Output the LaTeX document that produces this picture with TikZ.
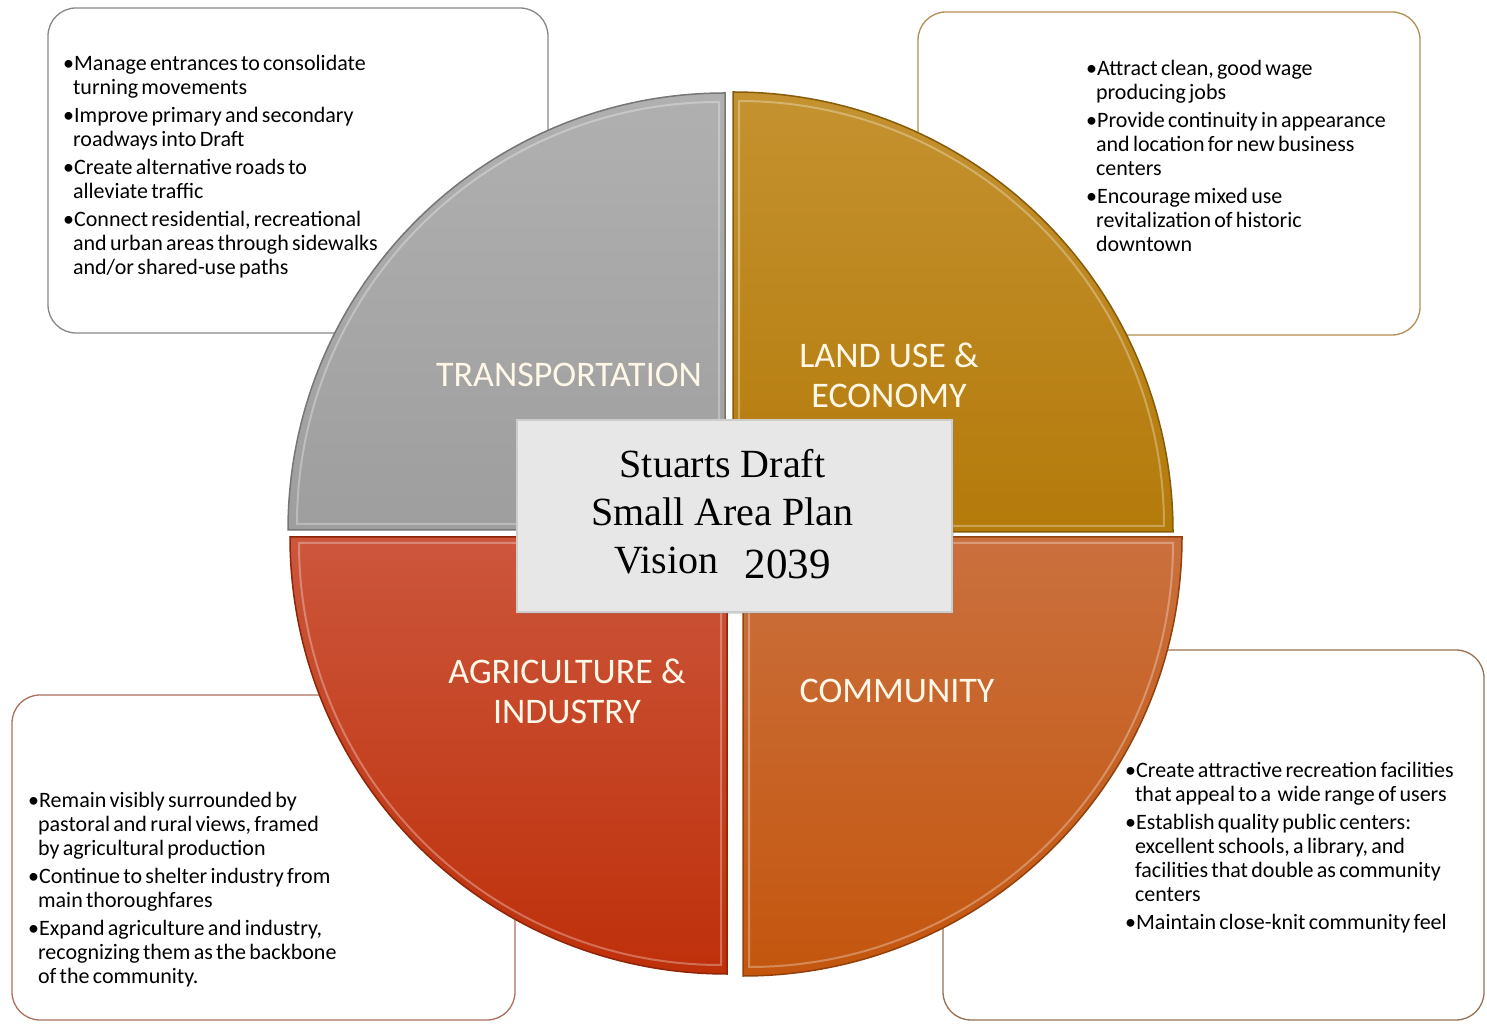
\documentclass[tikz,border=0pt]{standalone}
\usepackage{fontspec}
\setmainfont{Carlito}
\newfontfamily\titlefont{Liberation Serif}
\usetikzlibrary{calc,positioning,shadows}
\definecolor{grayTop}{RGB}{176,176,176}
\definecolor{grayBot}{RGB}{158,158,158}
\definecolor{goldTop}{RGB}{196,146,48}
\definecolor{goldBot}{RGB}{180,122,10}
\definecolor{redTop}{RGB}{204,86,60}
\definecolor{redBot}{RGB}{190,48,10}
\definecolor{comTop}{RGB}{202,112,62}
\definecolor{comBot}{RGB}{196,86,14}
\definecolor{cream}{RGB}{255,248,232}
\definecolor{boxGray}{RGB}{135,135,135}
\definecolor{boxGold}{RGB}{178,142,82}
\definecolor{boxRed}{RGB}{172,112,92}
\definecolor{boxBrown}{RGB}{150,112,80}
\newcommand{\vitem}[1]{\par\begingroup\let\\\newline
	\hangindent=0.45em\hangafter=1\noindent\textbullet#1\par\endgroup}
\newcommand{\notesetup}{\raggedright\spaceskip=0.15em plus 0.05em\parskip=4pt\relax}
\tikzset{
	notebox/.style={
		draw=#1,
		rounded corners=28pt,
		line width=1.3pt,
		fill=white},
	notetext/.style={
		anchor=north west,
		inner sep=0pt,
		text width=430pt,
		font=\fontsize{22}{24}\selectfont},
	quad/.style 2 args={
		top color=#1,
		bottom color=#2,
		draw=#2!75!black,
		line width=1.5pt},
	bevel/.style={draw=white, opacity=0.3, line width=2pt},
	quadlabel/.style={
		text=cream,
		inner sep=0pt,
		align=center,
		font=\fontsize{36}{40}\selectfont},
	visionbox/.style={
		rectangle,
		fill={rgb,255:red,231;green,231;blue,231},
		draw={rgb,255:red,205;green,205;blue,205},
		line width=1.5pt,
		drop shadow={opacity=0.25, shadow xshift=2pt, shadow yshift=-2pt},
		minimum width=435pt,
		minimum height=192pt},
	visiontitle/.style={
		inner sep=0pt,
		align=center,
		font=\titlefont\fontsize{40}{48}\selectfont},
}
\begin{document}
\begin{tikzpicture}[x=1pt,y=1pt]
	\useasboundingbox (0,0) rectangle (1487,1025);
	% text boxes behind the circle
	\draw[notebox=boxGray] (48,692) rectangle (548,1017);
	\draw[notebox=boxGold] (918,690) rectangle (1420,1013);
	\draw[notebox=boxRed] (12,5) rectangle (515,330);
	\draw[notebox=boxBrown] (943,5) rectangle (1484,375);
	
	\node[notetext] (transtext) at (63,983) {\notesetup
		\vitem{Manage entrances to consolidate\\turning movements}
		\vitem{Improve primary and secondary\\roadways into Draft}
		\vitem{Create alternative roads to\\alleviate traffic}
		\vitem{Connect residential, recreational\\and urban areas through sidewalks\\and/or shared-use paths}};
	\node[notetext] (landtext) at (1086,978) {\notesetup
		\vitem{Attract clean, good wage\\producing jobs}
		\vitem{Provide continuity in appearance\\and location for new business\\centers}
		\vitem{Encourage mixed use\\revitalization of historic\\downtown}};
	\node[notetext] (agritext) at (28,246) {\notesetup
		\vitem{Remain visibly surrounded by\\pastoral and rural views, framed\\by agricultural production}
		\vitem{Continue to shelter industry from\\main thoroughfares}
		\vitem{Expand agriculture and industry,\\recognizing them as the backbone\\of the community.}};
	\node[notetext] (comtext) at (1125,276) {\notesetup
		\vitem{Create attractive recreation facilities\\that appeal to a \ wide range of users}
		\vitem{Establish quality public centers:\\excellent schools, a library, and\\facilities that double as community\\centers}
		\vitem{Maintain close-knit community feel}};
	
	% the four quarters
	\coordinate (ctrans) at (725,495);
	\coordinate (cland) at (733,493);
	\coordinate (cagri) at (727,488);
	\coordinate (ccom) at (743,488);
	\path[quad={grayTop}{grayBot}] (ctrans) -- ++(0,437) arc[start angle=90,end angle=180,radius=437pt] -- cycle;
	\path[quad={goldTop}{goldBot}] (cland) -- ++(0,440) arc[start angle=90,end angle=0,radius=440pt] -- cycle;
	\path[quad={redTop}{redBot}] (cagri) -- ++(-437,0) arc[start angle=180,end angle=270,radius=437pt] -- cycle;
	\path[quad={comTop}{comBot}] (ccom) -- ++(439,0) arc[start angle=0,end angle=-90,radius=439pt] -- cycle;
	% bevel lines
	\path[bevel] ($(ctrans)+(-6,6)$) -- ++(0,422) arc[start angle=90,end angle=180,radius=422pt] -- cycle;
	\path[bevel] ($(cland)+(6,6)$) -- ++(0,425) arc[start angle=90,end angle=0,radius=425pt] -- cycle;
	\path[bevel] ($(cagri)+(-6,-6)$) -- ++(-422,0) arc[start angle=180,end angle=270,radius=422pt] -- cycle;
	\path[bevel] ($(ccom)+(6,-6)$) -- ++(424,0) arc[start angle=0,end angle=-90,radius=424pt] -- cycle;
	
	\node[quadlabel] (trans) at (569,650) {TRANSPORTATION};
	\node[quadlabel] (land) at (889,650) {LAND USE \&\\ECONOMY};
	\node[quadlabel] (agri) at (567,334) {AGRICULTURE \&\\INDUSTRY};
	\node[quadlabel] (com) at (897,334) {COMMUNITY};
	
	\node[visionbox] (vision) at (734.5,509) {};
	\node[visiontitle, xshift=-12pt, yshift=2pt] (visiontext) at (vision.center) {Stuarts Draft\\Small Area Plan\\Vision\hspace{26pt}\raisebox{-5pt}{\fontsize{43}{48}\selectfont 2039}};
\end{tikzpicture}
\end{document}
